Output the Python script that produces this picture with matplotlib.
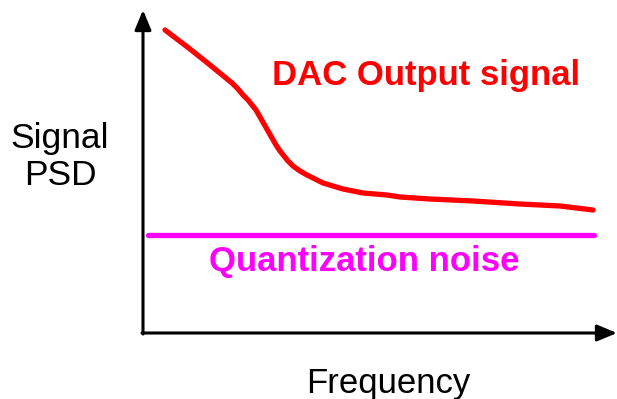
import matplotlib.pyplot as plt

# PSD sketch: DAC output falling toward a flat quantization-noise floor
sig_x = [165, 190, 210, 221, 232, 238, 243, 248, 252, 256, 260, 264, 268, 272, 276, 280,
         284, 288, 293, 300, 307, 315, 323, 333, 343, 353, 363, 375, 387, 400, 430, 473,
         520, 560, 593]
sig_y = [30, 49, 65, 74, 83, 89, 95, 100, 105, 110, 117, 124, 131, 138, 145, 151,
         156, 161, 166, 171, 175, 179, 183, 186, 189, 191, 193, 194, 195, 197, 199, 201,
         204, 206, 210]

noise_x = [148, 594]
noise_y = [235, 235]

plt.rcParams['font.family'] = ['Liberation Sans', 'DejaVu Sans']

fig = plt.figure(figsize=(6.17, 3.99), dpi=100)
ax = fig.add_axes([0, 0, 1, 1])
ax.set_xlim(0, 617)
ax.set_ylim(399, 0)
ax.set_axis_off()

# axes with arrow heads
arrow = dict(arrowstyle='-|>,head_length=1.2,head_width=0.5', color='black', lw=2.2,
             shrinkA=0, shrinkB=0)
ax.annotate('', xy=(143, 10), xytext=(143, 334), arrowprops=arrow)
ax.annotate('', xy=(617, 333), xytext=(142, 333), arrowprops=arrow)

ax.plot(sig_x, sig_y, color='#ff0000', lw=3.8, solid_capstyle='round', solid_joinstyle='round')
ax.plot(noise_x, noise_y, color='#ff00ff', lw=3.8, solid_capstyle='round')

ax.text(426, 75, 'DAC Output signal', color='#ff0000', fontsize=25, fontweight='bold',
        ha='center', va='center')
ax.text(364, 261, 'Quantization noise', color='#ff00ff', fontsize=25, fontweight='bold',
        ha='center', va='center')
ax.text(60, 157, 'Signal\nPSD', color='black', fontsize=25.5, ha='center', va='center',
        linespacing=1.12)
ax.text(388, 384, 'Frequency', color='black', fontsize=25, ha='center', va='center')

fig.savefig('out.png', dpi=100)
